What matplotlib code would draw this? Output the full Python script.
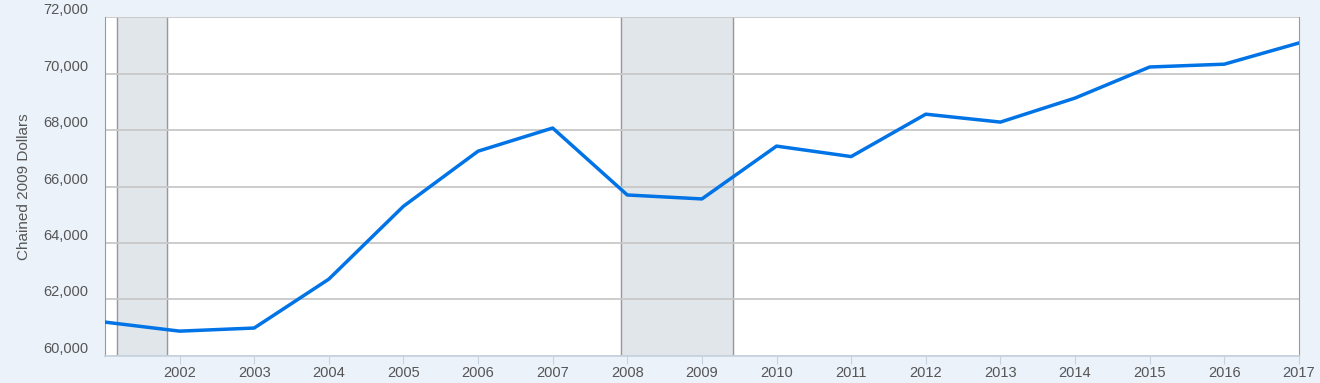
import matplotlib.pyplot as plt
from matplotlib.ticker import FuncFormatter

plt.rcParams['font.family'] = ['Liberation Sans', 'DejaVu Sans']

years = list(range(2001, 2018))
values = [61200, 60880, 60990, 62720, 65300, 67250, 68070, 65700, 65560,
          67430, 67060, 68560, 68280, 69130, 70230, 70330, 71080]
recessions = [(2001.167, 2001.833), (2007.917, 2009.417)]
ytick_vals = [60000, 62000, 64000, 66000, 68000, 70000, 72000]
xtick_vals = list(range(2002, 2018))

bg = '#ebf2fa'
fig = plt.figure(figsize=(13.2, 3.83), dpi=100, facecolor=bg)
ax = fig.add_axes([0.0795, 0.0705, 0.9045, 0.8851])
ax.set_facecolor('white')

for start, end in recessions:
    ax.axvspan(start, end, color='#e1e6ea', zorder=0)
    ax.axvline(start, color='#999999', linewidth=1, zorder=1)
    ax.axvline(end, color='#999999', linewidth=1, zorder=1)

for y in ytick_vals:
    ax.axhline(y, color='#c8c8c8', linewidth=1.3, zorder=1)

ax.plot(years, values, color='#0073e6', linewidth=2.5, zorder=3)

ax.set_xlim(2001, 2017)
ax.set_ylim(60000, 72000)
ax.set_yticks(ytick_vals)
ax.yaxis.set_major_formatter(FuncFormatter(lambda v, p: f'{int(v):,}'))
ax.set_xticks(xtick_vals)
ax.set_xticklabels([str(x) for x in xtick_vals])

ax.spines['top'].set_visible(False)
ax.spines['left'].set_color('#999999')
ax.spines['right'].set_color('#999999')
ax.spines['bottom'].set_color('#c8d3e0')
ax.spines['bottom'].set_linewidth(1.3)

ax.tick_params(axis='y', length=0, pad=12, labelsize=10.5, labelcolor='#555555')
ax.tick_params(axis='x', length=6, color='#c8d3e0', pad=1, labelsize=10.5,
               labelcolor='#555555')
for lab in ax.get_yticklabels():
    lab.set_verticalalignment('bottom')

ax.set_ylabel('Chained 2009 Dollars', fontsize=11, color='#555555')
ax.yaxis.set_label_coords(-0.062, 0.5)

fig.savefig('out.png', dpi=100, facecolor=bg)
